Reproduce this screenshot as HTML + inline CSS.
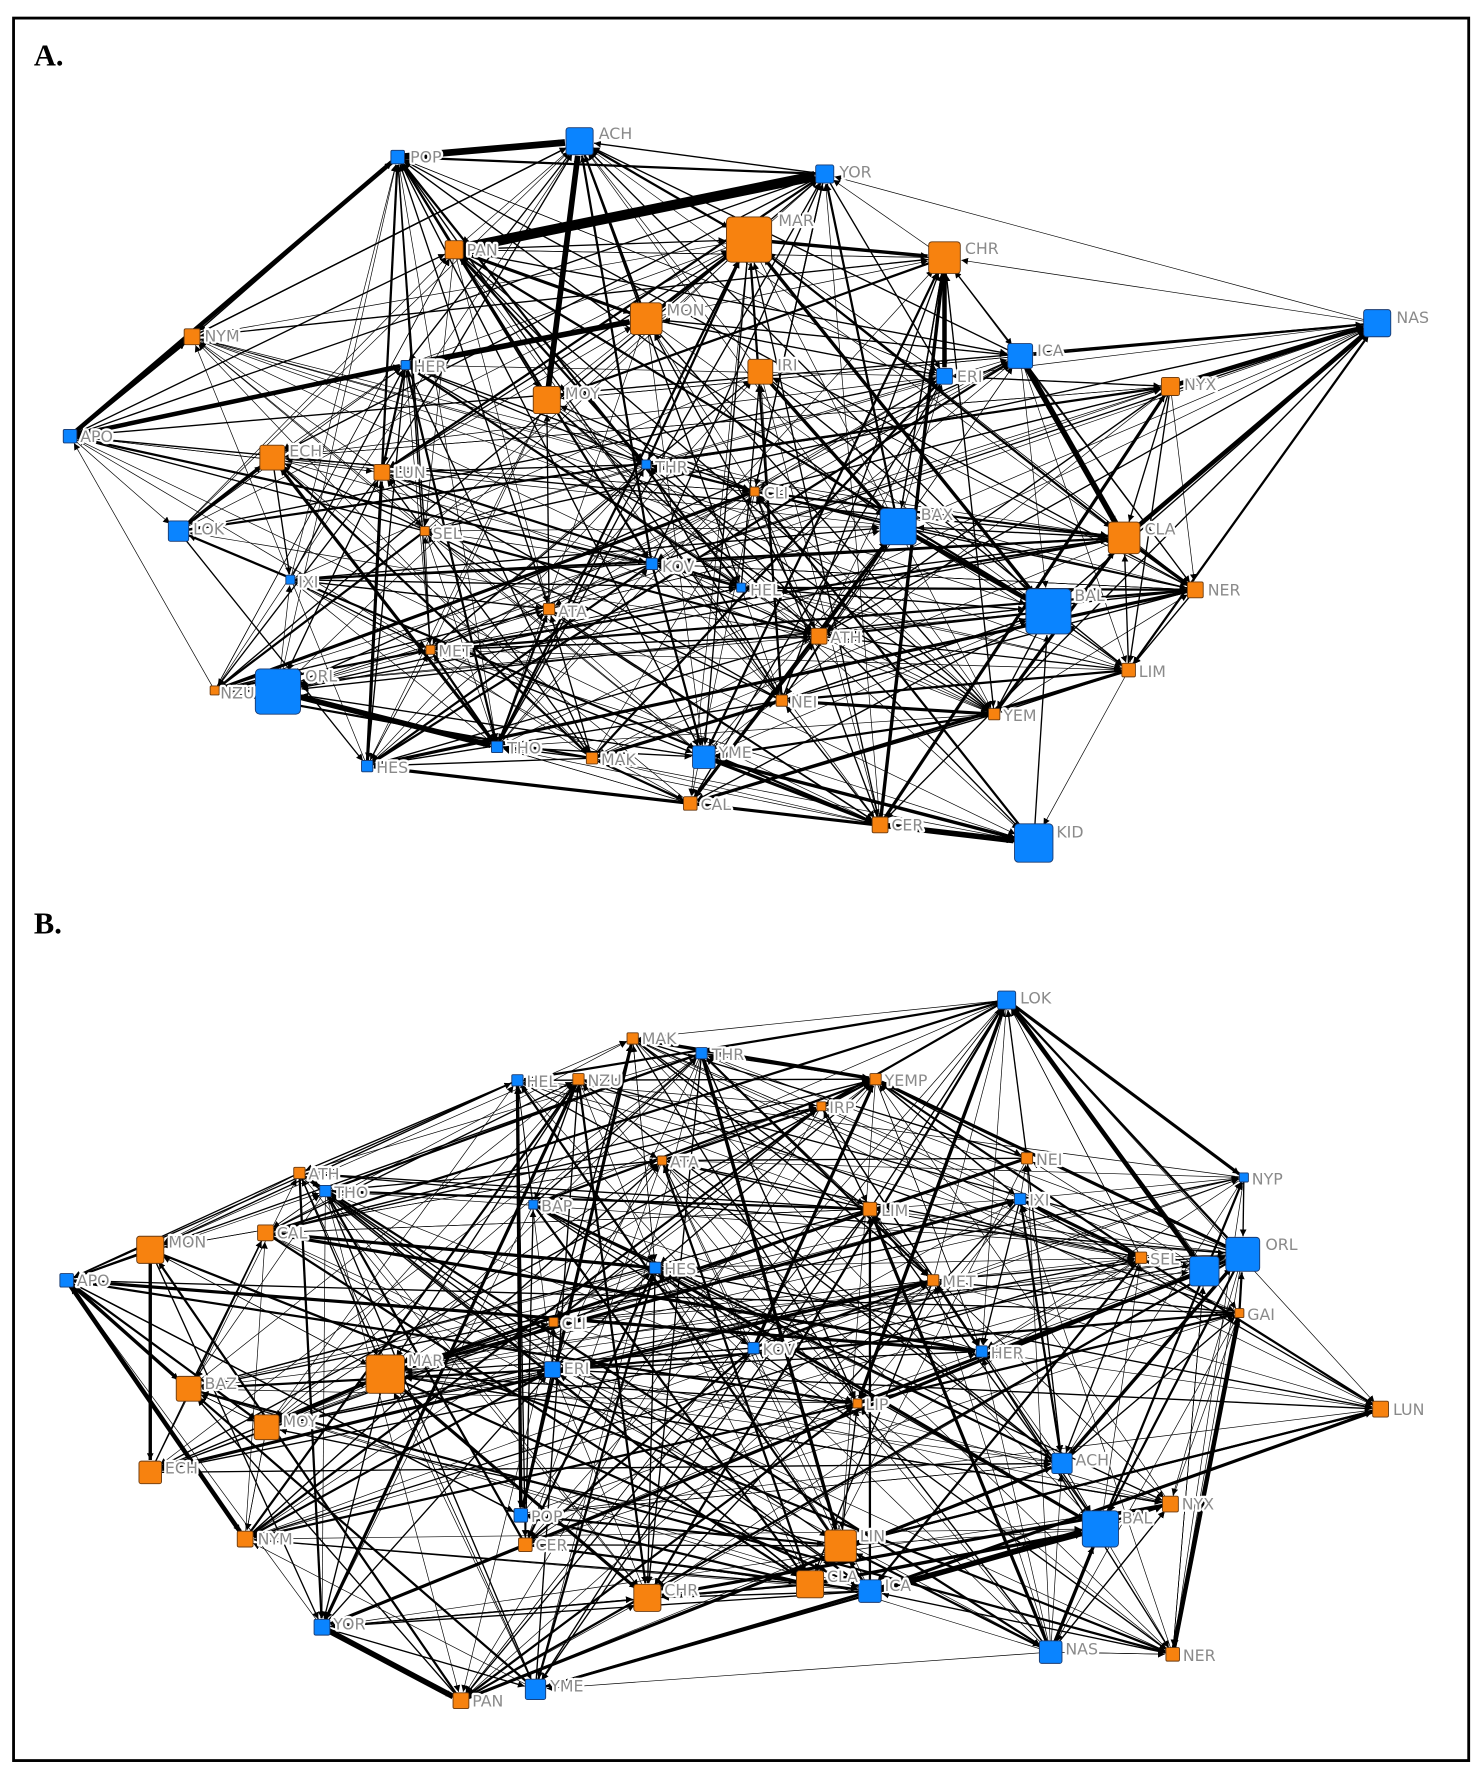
<!DOCTYPE html>
<html><head><meta charset="utf-8"><style>
html,body{margin:0;padding:0;background:#fff;}
svg{display:block;}
.lb{font-family:"DejaVu Sans","Liberation Sans",sans-serif;font-size:14px;fill:#8a8a8a;paint-order:stroke;stroke:#fff;stroke-width:4px;stroke-linejoin:round;}
.tt{font-family:"Liberation Serif",serif;font-weight:bold;font-size:27px;fill:#000;}
</style></head><body>
<svg id="s" width="1480" height="1773" viewBox="0 0 1310 1569" preserveAspectRatio="none" xmlns="http://www.w3.org/2000/svg">
<defs><marker id="ah" viewBox="0 0 10 10" refX="10" refY="5" markerWidth="6" markerHeight="6" markerUnits="userSpaceOnUse" orient="auto"><path d="M0,0L10,5L0,10z" fill="#000"/></marker></defs>
<rect x="12" y="16" width="1288" height="1542" fill="#fff" stroke="#000" stroke-width="2.5"/>
<text class="tt" x="30" y="58">A.</text>
<text class="tt" x="30" y="826">B.</text>
<g id="edges"></g>
<g id="nodes"></g>
<g id="labels">
<text class="lb" x="363" y="144">POP</text><text class="lb" x="530" y="123">ACH</text><text class="lb" x="743" y="157">YOR</text>
<text class="lb" x="413" y="226">PAN</text><text class="lb" x="689" y="200">MAR</text><text class="lb" x="854" y="225">CHR</text>
<text class="lb" x="1236" y="286">NAS</text><text class="lb" x="590" y="279">MON</text><text class="lb" x="181" y="302">NYM</text>
<text class="lb" x="918" y="315">ICA</text><text class="lb" x="366" y="329">HER</text><text class="lb" x="688" y="328">IRI</text>
<text class="lb" x="847" y="338">ERI</text><text class="lb" x="1048" y="345">NYX</text><text class="lb" x="500" y="353">MOY</text>
<text class="lb" x="71" y="391">APO</text><text class="lb" x="256" y="404">ECH</text><text class="lb" x="349" y="423">LUN</text>
<text class="lb" x="580" y="418">THR</text><text class="lb" x="676" y="441">CLI</text><text class="lb" x="171" y="473">LOK</text>
<text class="lb" x="383" y="477">SEL</text><text class="lb" x="815" y="460">BAX</text><text class="lb" x="1013" y="473">CLA</text>
<text class="lb" x="586" y="506">KOV</text><text class="lb" x="264" y="520">IXI</text><text class="lb" x="664" y="527">HEL</text>
<text class="lb" x="1069" y="527">NER</text><text class="lb" x="951" y="532">BAL</text><text class="lb" x="494" y="546">ATA</text>
<text class="lb" x="735" y="569">ATH</text><text class="lb" x="388" y="581">MET</text><text class="lb" x="1008" y="599">LIM</text>
<text class="lb" x="195" y="618">NZU</text><text class="lb" x="270" y="603">ORL</text><text class="lb" x="700" y="626">NEI</text>
<text class="lb" x="888" y="638">YEM</text><text class="lb" x="333" y="684">HES</text><text class="lb" x="449" y="667">THO</text>
<text class="lb" x="532" y="677">MAK</text><text class="lb" x="636" y="671">YME</text><text class="lb" x="620" y="717">CAL</text>
<text class="lb" x="789" y="735">CER</text><text class="lb" x="935" y="741">KID</text>

<text class="lb" x="903" y="888">LOK</text><text class="lb" x="568" y="924">MAK</text><text class="lb" x="630" y="938">THR</text>
<text class="lb" x="466" y="962">HEL</text><text class="lb" x="520" y="961">NZU</text><text class="lb" x="783" y="961">YEMP</text>
<text class="lb" x="734" y="985">IRP</text><text class="lb" x="917" y="1031">NEI</text><text class="lb" x="593" y="1033">ATA</text>
<text class="lb" x="273" y="1044">ATH</text><text class="lb" x="1108" y="1048">NYP</text><text class="lb" x="296" y="1060">THO</text>
<text class="lb" x="911" y="1067">IXI</text><text class="lb" x="479" y="1072">BAP</text><text class="lb" x="780" y="1076">LIM</text>
<text class="lb" x="149" y="1104">MON</text><text class="lb" x="245" y="1096">CAL</text><text class="lb" x="1120" y="1106">ORL</text>
<text class="lb" x="68" y="1138">APO</text><text class="lb" x="588" y="1128">HES</text><text class="lb" x="1018" y="1119">SEL</text>
<text class="lb" x="834" y="1139">MET</text><text class="lb" x="1104" y="1168">GAI</text><text class="lb" x="497" y="1176">CLI</text>
<text class="lb" x="675" y="1199">KOV</text><text class="lb" x="877" y="1202">HER</text><text class="lb" x="361" y="1209">MAR</text>
<text class="lb" x="499" y="1216">ERI</text><text class="lb" x="181" y="1229">BAZ</text><text class="lb" x="766" y="1248">LIP</text>
<text class="lb" x="250" y="1263">MOY</text><text class="lb" x="1233" y="1252">LUN</text><text class="lb" x="952" y="1297">ACH</text>
<text class="lb" x="146" y="1304">ECH</text><text class="lb" x="1046" y="1336">NYX</text><text class="lb" x="470" y="1347">POP</text>
<text class="lb" x="228" y="1367">NYM</text><text class="lb" x="474" y="1372">CER</text><text class="lb" x="761" y="1364">LIN</text>
<text class="lb" x="993" y="1348">BAL</text><text class="lb" x="588" y="1412">CHR</text><text class="lb" x="732" y="1400">CLA</text>
<text class="lb" x="783" y="1408">ICA</text><text class="lb" x="295" y="1442">YOR</text><text class="lb" x="943" y="1464">NAS</text>
<text class="lb" x="1047" y="1470">NER</text><text class="lb" x="418" y="1510">PAN</text><text class="lb" x="487" y="1497">YME</text>
</g>
</svg>
<script>
var A={POP:[352,139,12,'b'],ACH:[513,125,24,'b'],YOR:[730,154,16,'b'],PAN:[402,221,16,'o'],MAR:[663,212,40,'o'],CHR:[836,228,28,'o'],NAS:[1219,286,24,'b'],MON:[572,282,28,'o'],NYM:[170,298,14,'o'],ICA:[903,315,22,'b'],HER:[359,323,8,'b'],IRI:[673,329,22,'o'],ERI:[836,333,14,'b'],NYX:[1036,342,16,'o'],MOY:[484,354,24,'o'],APO:[62,386,12,'b'],ECH:[241,405,22,'o'],LUN:[338,418,14,'o'],THR:[572,411,8,'b'],CLI:[668,435,8,'o'],LOK:[158,470,18,'b'],SEL:[376,470,8,'o'],BAX:[795,466,32,'b'],CLA:[995,476,28,'o'],KOV:[577,499,10,'b'],IXI:[257,513,8,'b'],HEL:[656,520,8,'b'],NER:[1058,522,14,'o'],BAL:[928,541,40,'b'],ATA:[486,539,10,'o'],ATH:[725,563,14,'o'],MET:[381,575,8,'o'],LIM:[999,593,12,'o'],NZU:[190,611,8,'o'],ORL:[246,612,40,'b'],NEI:[692,620,10,'o'],YEM:[880,632,10,'o'],HES:[325,678,10,'b'],THO:[440,661,10,'b'],MAK:[524,671,10,'o'],YME:[623,670,20,'b'],CAL:[611,711,12,'o'],CER:[779,730,14,'o'],KID:[915,746,34,'b']};
var B={LOK:[891,885,16,'b'],MAK:[560,919,10,'o'],THR:[621,932,10,'b'],HEL:[458,956,10,'b'],NZU:[512,955,10,'o'],YEMP:[775,955,10,'o'],IRP:[727,979,8,'o'],NEI:[909,1025,10,'o'],ATA:[586,1027,8,'o'],ATH:[265,1038,10,'o'],NYP:[1101,1042,8,'b'],THO:[288,1054,10,'b'],IXI:[903,1061,10,'b'],BAP:[472,1066,8,'b'],LIM:[770,1070,12,'o'],MON:[133,1106,24,'o'],CAL:[235,1091,14,'o'],ORL:[1100,1110,30,'b'],APO:[59,1133,12,'b'],HES:[580,1122,10,'b'],SEL:[1010,1113,10,'o'],X:[1066,1125,26,'b'],MET:[826,1133,10,'o'],GAI:[1097,1162,8,'o'],CLI:[490,1170,8,'o'],KOV:[667,1193,10,'b'],HER:[869,1196,10,'b'],MAR:[341,1216,34,'o'],ERI:[489,1212,14,'b'],BAZ:[167,1229,22,'o'],LIP:[759,1242,8,'o'],MOY:[236,1263,22,'o'],LUN:[1222,1247,14,'o'],ACH:[940,1295,18,'b'],ECH:[133,1303,20,'o'],NYX:[1036,1331,14,'o'],POP:[461,1341,12,'b'],NYM:[217,1362,14,'o'],CER:[465,1367,12,'o'],LIN:[744,1368,28,'o'],BAL:[974,1353,32,'b'],CHR:[573,1414,24,'o'],CLA:[717,1402,24,'o'],ICA:[770,1408,20,'b'],YOR:[285,1440,14,'b'],NAS:[930,1462,20,'b'],NER:[1038,1464,12,'o'],PAN:[408,1505,14,'o'],YME:[474,1495,18,'b']};
var thickA=[['PAN','YOR',9],['POP','ACH',6],['MOY','ACH',5],['APO','HER',4],['HER','MON',5],['APO','POP',4],['ICA','CLA',5],['NYX','NAS',4],['CLA','NAS',4],['BAX','BAL',4],['CER','KID',5],['ORL','THO',5],['MAR','CHR',3],['LOK','ECH',3],['MAR','BAL',3],['CHR','ERI',4],['IRI','BAX',3],['APO','NYM',3],['YME','KID',3],['CER','CHR',3],['CLA','NER',3],['MON','MAR',3]];
var thickB=[['LOK','X',4],['YOR','PAN',5],['NER','GAI',4],['ICA','BAL',4],['MON','ECH',3],['APO','NYM',4],['MOY','MAR',3],['NAS','BAL',3],['HEL','POP',3],['LOK','LIP',3],['ORL','ACH',3],['APO','BAZ',3],['CLA','BAL',3],['MAK','YEMP',3],['THR','LIN',3]];
var seed=7;function r(){seed=(seed*16807)%2147483647;return seed/2147483647;}
var ns='http://www.w3.org/2000/svg',E=document.getElementById('edges'),N=document.getElementById('nodes');
function line(a,b,w){var dx=b[0]-a[0],dy=b[1]-a[1],d=Math.sqrt(dx*dx+dy*dy)||1,o=b[2]/2+1;
var l=document.createElementNS(ns,'line');l.setAttribute('x1',a[0]);l.setAttribute('y1',a[1]);l.setAttribute('x2',b[0]-dx/d*o);l.setAttribute('y2',b[1]-dy/d*o);
l.setAttribute('stroke','#000');l.setAttribute('stroke-width',w);l.setAttribute('marker-end','url(#ah)');E.appendChild(l);}
function panel(P,th,cnt){var k=Object.keys(P),made=0,guard=0;
while(made<cnt&&guard<20000){guard++;var a=k[Math.floor(r()*k.length)],b=k[Math.floor(r()*k.length)];if(a==b)continue;
var dx=P[a][0]-P[b][0],dy=P[a][1]-P[b][1],d=Math.sqrt(dx*dx+dy*dy);if(r()>Math.min(1,450/(d+150)))continue;
made++;var q=r(),w=q<0.55?0.6:(q<0.85?1.2:(q<0.96?2:2.8));line(P[a],P[b],w);}
th.forEach(function(t){line(P[t[0]],P[t[1]],t[2]);});
k.forEach(function(n){var p=P[n],s=p[2],e=document.createElementNS(ns,'rect');e.setAttribute('x',p[0]-s/2);e.setAttribute('y',p[1]-s/2);e.setAttribute('width',s);e.setAttribute('height',s);e.setAttribute('rx',Math.max(1,s/10));
e.setAttribute('fill',p[3]=='b'?'#0a84ff':'#f7820f');e.setAttribute('stroke',p[3]=='b'?'#1a3a70':'#6a3a10');e.setAttribute('stroke-width',0.8);N.appendChild(e);});}
panel(A,thickA,460);panel(B,thickB,440);
</script>
</body></html>
